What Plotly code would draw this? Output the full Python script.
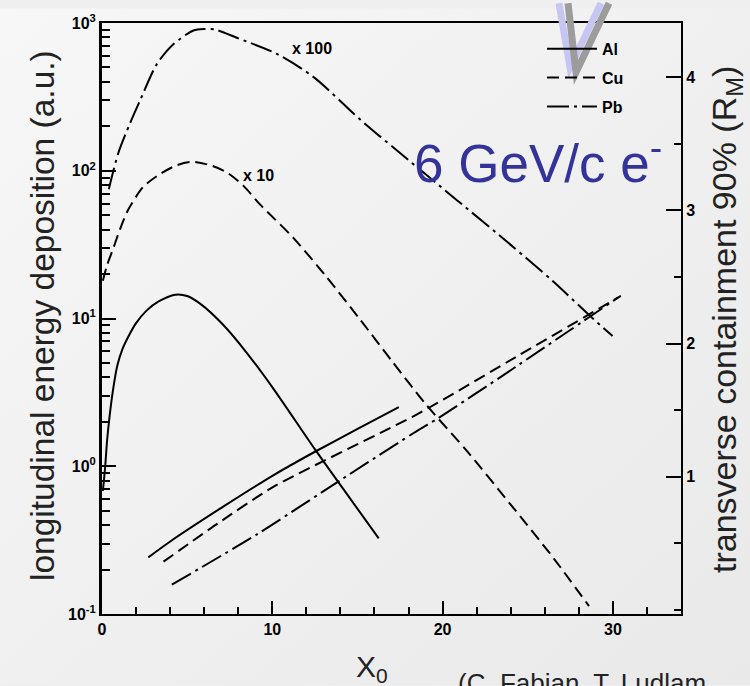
import base64
import plotly.graph_objects as go

# ---------------- data ----------------
# longitudinal energy deposition (left, log axis)
al_long_x = [0.05, 0.18, 0.3, 0.45, 0.65, 0.9, 1.2, 1.55, 2.0, 2.63, 3.3, 4.3, 5.0, 5.76, 7.14, 8.51, 10.08, 12.53, 14.5, 16.25]
al_long_y = [0.68, 0.97, 1.5, 2.2, 3.3, 4.8, 6.2, 7.55, 9.3, 11.35, 13.0, 14.5, 14.2, 12.6, 9.0, 5.84, 3.33, 1.29, 0.62, 0.325]

cu_long_x = [0.05, 0.3, 0.67, 1.05, 1.45, 1.75, 2.43, 3.41, 4.39, 5.27, 6.35, 7.33, 8.31, 9.29, 11.25, 13.2, 15.18, 17.0, 19.0, 21.45, 24.0, 26.5, 28.6]
cu_long_y = [18, 23, 30, 40, 52, 60, 78, 95, 109, 115, 109, 97.5, 79, 59, 35, 19, 9.75, 5.2, 2.64, 1.26, 0.55, 0.24, 0.113]

pb_long_x = [0.4, 0.96, 1.65, 2.24, 3.22, 4.19, 5.37, 6.0, 6.65, 7.92, 10.3, 12.43, 15.18, 18.0, 20.86, 24.0, 26.5, 28.7, 29.98]
pb_long_y = [75, 132, 210, 300, 527, 718, 889, 910, 902, 794, 615, 430, 221, 118, 63, 31.5, 17.8, 10.3, 7.6]

# transverse containment 90% (right axis, R_M)
al_tr_x = [2.72, 4.19, 7.14, 10.08, 12.53, 14.98, 17.43]
al_tr_y = [0.395, 0.531, 0.778, 1.013, 1.19, 1.358, 1.524]

cu_tr_x = [3.61, 6.8, 10.08, 18.6, 24.5, 30.47]
cu_tr_y = [0.363, 0.65, 0.926, 1.476, 1.914, 2.358]

pb_tr_x = [4.1, 9.1, 14.0, 18.6, 19.7, 24.0, 28.6, 30.3]
pb_tr_y = [0.19, 0.568, 0.975, 1.353, 1.437, 1.8, 2.198, 2.345]

materials = ["Al", "Cu", "Pb"]
x_tickvals = [0, 10, 20, 30]
x_ticktext = ["0", "10", "20", "30"]
y_tickvals = [0.1, 1, 10, 100, 1000]
y_ticktext = ["10<sup>-1</sup>", "10<sup>0</sup>", "10<sup>1</sup>", "10<sup>2</sup>", "10<sup>3</sup>"]
y2_tickvals = [1, 2, 3, 4]
y2_ticktext = ["1", "2", "3", "4"]

# ---------------- styles ----------------
DASHES = {"Al": "solid", "Cu": "12px,6px", "Pb": "22px,5px,3px,5px"}
LW = 2
FONT = "Liberation Sans, Arial, sans-serif"
TICKFONT = dict(size=16, color="black", family=FONT, weight="bold")

fig = go.Figure()

long_sets = [(al_long_x, al_long_y), (cu_long_x, cu_long_y), (pb_long_x, pb_long_y)]
tr_sets = [(al_tr_x, al_tr_y), (cu_tr_x, cu_tr_y), (pb_tr_x, pb_tr_y)]

for m, (xs, ys) in zip(materials, long_sets):
    fig.add_trace(go.Scatter(
        x=xs, y=ys, mode="lines", name=m, legendgroup=m,
        line=dict(color="black", width=LW, dash=DASHES[m], shape="spline", smoothing=0.8),
        yaxis="y", showlegend=True))

for m, (xs, ys) in zip(materials, tr_sets):
    fig.add_trace(go.Scatter(
        x=xs, y=ys, mode="lines", name=m, legendgroup=m,
        line=dict(color="black", width=LW, dash=DASHES[m], shape="spline", smoothing=0.6),
        yaxis="y2", showlegend=False))

L, R, T, B = 102, 69, 15, 72
W, H = 750, 686
PW, PH = W - L - R, H - T - B


def xp(px):
    return (px - L) / PW


def yp(py):
    return (H - B - py) / PH


# soft background gradient like the slide
svg = ('<svg xmlns="http://www.w3.org/2000/svg" width="750" height="686">'
       '<defs><linearGradient id="g" x1="0" y1="0" x2="1" y2="1">'
       '<stop offset="0" stop-color="#f7f7f7"/><stop offset="1" stop-color="#e9e9e9"/>'
       '</linearGradient></defs><rect width="750" height="686" fill="url(#g)"/></svg>')
bg_src = "data:image/svg+xml;base64," + base64.b64encode(svg.encode()).decode()

fig.update_layout(
    width=W, height=H,
    margin=dict(l=L, r=R, t=T, b=B),
    paper_bgcolor="#efefef", plot_bgcolor="rgba(0,0,0,0)",
    font=dict(family=FONT, color="black"),
    images=[dict(source=bg_src, xref="paper", yref="paper", x=xp(0), y=yp(0),
                 sizex=W / PW, sizey=H / PH, xanchor="left", yanchor="top",
                 sizing="stretch", layer="below")],
    xaxis=dict(
        range=[0, 34], tickvals=x_tickvals, ticktext=x_ticktext,
        ticks="inside", ticklen=13, tickwidth=2, tickcolor="black",
        minor=dict(ticks="inside", ticklen=7, tickwidth=2, dtick=2, tick0=0, tickcolor="black", showgrid=False),
        showline=True, linewidth=2, linecolor="black", mirror=True,
        showgrid=False, zeroline=False, tickfont=TICKFONT,
    ),
    yaxis=dict(
        type="log", range=[-1, 3], tickvals=y_tickvals, ticktext=y_ticktext,
        ticks="inside", ticklen=14, tickwidth=2, tickcolor="black",
        minor=dict(ticks="inside", ticklen=8, tickwidth=2, dtick="D1", tickcolor="black", showgrid=False),
        showline=True, linewidth=3, linecolor="black",
        showgrid=False, zeroline=False, tickfont=TICKFONT,
    ),
    yaxis2=dict(
        overlaying="y", side="right", range=[-0.03, 4.407],
        tickvals=y2_tickvals, ticktext=y2_ticktext,
        ticks="inside", ticklen=15, tickwidth=2, tickcolor="black",
        minor=dict(ticks="inside", ticklen=7, tickwidth=2, dtick=0.5, tick0=0, tickcolor="black", showgrid=False),
        showline=True, linewidth=2, linecolor="black",
        showgrid=False, zeroline=False, tickfont=TICKFONT,
    ),
    legend=dict(
        x=xp(542), y=yp(24), xanchor="left", yanchor="top",
        bgcolor="rgba(0,0,0,0)", font=dict(size=16, color="black", family=FONT, weight="bold"),
        itemwidth=50, tracegroupgap=5,
    ),
    showlegend=True,
)

annotations = [
    dict(text="x 100", x=xp(312), y=yp(41), font=dict(size=16, weight="bold")),
    dict(text="x 10", x=xp(258), y=yp(170), font=dict(size=16, weight="bold")),
    dict(text="6 GeV/c e<sup>-</sup>", x=xp(412), y=yp(153), xanchor="left",
         font=dict(size=53, color="#333399")),
    dict(text="longitudinal energy deposition (a.u.)", x=xp(42), y=yp(312), textangle=-90,
         font=dict(size=33.5, color="#222222")),
    dict(text="transverse containment 90% (R<sub>M</sub>)", x=xp(727), y=yp(316), textangle=-90,
         font=dict(size=34, color="#222222")),
    dict(text="X<sub>0</sub>", x=xp(372), y=yp(669), font=dict(size=30, color="#222222")),
    dict(text="(C. Fabian, T. Ludlam", x=xp(456), y=yp(667), xanchor="left", yanchor="top",
         font=dict(size=26, color="#222222")),
]
for a in annotations:
    a.setdefault("xanchor", "center")
    a.setdefault("yanchor", "middle")
    fig.add_annotation(xref="paper", yref="paper", showarrow=False, **a)

# decorative V marks at top (from original slide)
fig.add_shape(type="path", xref="paper", yref="paper",
              path=f"M {xp(559)} {yp(-5)} L {xp(570)} {yp(60)} L {xp(601)} {yp(-5)}",
              line=dict(color="#c6c6f2", width=7), layer="above")
fig.add_shape(type="path", xref="paper", yref="paper",
              path=f"M {xp(568)} {yp(-5)} L {xp(576)} {yp(65)} L {xp(609)} {yp(-5)}",
              line=dict(color="#9c9c9c", width=7), layer="above")

fig.write_html("out.html")
